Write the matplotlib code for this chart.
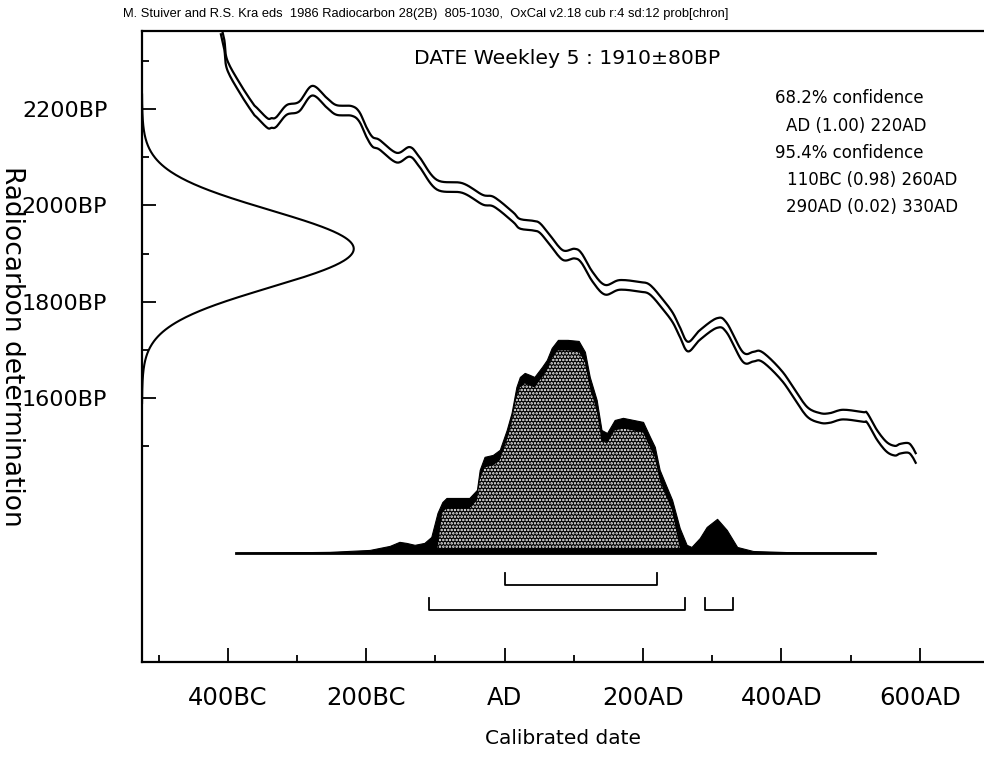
import numpy as np
import matplotlib
matplotlib.use("Agg")
import matplotlib.pyplot as plt
from matplotlib.ticker import FixedLocator

plt.rcParams['font.family'] = ['DejaVu Sans']
plt.rcParams['hatch.color'] = 'white'
plt.rcParams['hatch.linewidth'] = 1.2

# ---------------- data ----------------
header = ("M. Stuiver and R.S. Kra eds  1986 Radiocarbon 28(2B)  805-1030,  "
          "OxCal v2.18 cub r:4 sd:12 prob[chron]")
title = "DATE Weekley 5 : 1910\u00b180BP"
date_bp = 1910
date_err = 80

# calibration curve (mean) and its 1-sigma
cal_years = [-410, -405, -401, -383, -364, -359, -343, -337, -330, -315, -297, -278,
             -257, -243, -221, -210, -200, -191, -181, -156, -137, -123, -98, -61,
             -32, -15, 12, 22, 41, 51, 65, 84, 101, 111, 127, 145, 166, 195, 210,
             229, 243, 253, 265, 282, 307, 321, 344, 359, 369, 383, 402, 417, 437,
             456, 470, 489, 518, 524, 538, 552, 564, 571, 583, 589, 594]
cal_bp = [2365, 2333, 2292, 2244, 2202, 2194, 2171, 2171, 2173, 2198, 2205, 2238,
          2213, 2198, 2196, 2184, 2153, 2132, 2126, 2099, 2111, 2090, 2043, 2036,
          2012, 2007, 1976, 1962, 1958, 1953, 1929, 1897, 1900, 1891, 1852, 1825,
          1835, 1831, 1825, 1794, 1767, 1738, 1707, 1731, 1756, 1746, 1686, 1686,
          1688, 1673, 1644, 1613, 1572, 1559, 1559, 1566, 1561, 1559, 1524, 1499,
          1491, 1495, 1497, 1489, 1476]
cal_sigma = 10

# calibrated probability distribution (relative, peak = 1)
dist_years = [-388, -253, -195, -166, -152, -142, -130, -116, -106, -97, -90, -84,
              -51, -40, -36, -29, -17, -7, 3, 10, 17, 22, 29, 36, 43, 54, 61, 68,
              77, 91, 107, 116, 123, 133, 140, 148, 159, 171, 200, 210, 217, 224,
              233, 242, 253, 263, 270, 282, 292, 307, 321, 336, 359, 427, 535]
dist_prob = [0.0, 0.005, 0.014, 0.033, 0.052, 0.047, 0.038, 0.047, 0.075, 0.188,
             0.239, 0.258, 0.258, 0.296, 0.390, 0.451, 0.460, 0.484, 0.577, 0.657,
             0.779, 0.826, 0.845, 0.836, 0.826, 0.873, 0.906, 0.962, 1.0, 1.0,
             0.995, 0.944, 0.826, 0.718, 0.577, 0.563, 0.624, 0.634, 0.615, 0.545,
             0.498, 0.390, 0.319, 0.249, 0.117, 0.038, 0.028, 0.070, 0.122, 0.160,
             0.108, 0.028, 0.009, 0.002, 0.0]

range_68 = [(1, 220)]
range_95 = [(-110, 260), (290, 330)]
conf_text = ["68.2% confidence", "AD (1.00) 220AD", "95.4% confidence",
             "110BC (0.98) 260AD", "290AD (0.02) 330AD"]

xtick_major = [-400, -200, 0, 200, 400, 600]
xtick_labels = ["400BC", "200BC", "AD", "200AD", "400AD", "600AD"]
xtick_minor = [-500, -300, -100, 100, 300, 500]
ytick_major = [1600, 1800, 2000, 2200]
ytick_labels = ["1600BP", "1800BP", "2000BP", "2200BP"]
ytick_minor = [1500, 1700, 1900, 2100, 2300]


def catmull_rom(x, y, n=10):
    """Smooth drawing path through the given points (display only)."""
    x = np.asarray(x, float)
    y = np.asarray(y, float)
    px = np.concatenate([[2 * x[0] - x[1]], x, [2 * x[-1] - x[-2]]])
    py = np.concatenate([[2 * y[0] - y[1]], y, [2 * y[-1] - y[-2]]])
    t = np.linspace(0, 1, n, endpoint=False)[:, None]
    ox, oy = [], []
    for i in range(1, len(px) - 2):
        for arr, out in ((px, ox), (py, oy)):
            p0, p1, p2, p3 = arr[i - 1], arr[i], arr[i + 1], arr[i + 2]
            seg = 0.5 * ((2 * p1) + (-p0 + p2) * t + (2 * p0 - 5 * p1 + 4 * p2 - p3) * t ** 2
                         + (-p0 + 3 * p1 - 3 * p2 + p3) * t ** 3)
            out.append(seg.ravel())
    ox.append([x[-1]])
    oy.append([y[-1]])
    return np.concatenate(ox), np.concatenate(oy)


# ---------------- figure ----------------
W, H = 984, 758
fig = plt.figure(figsize=(W / 100, H / 100), dpi=100)
L, R, T, B = 142, 984, 31, 662
ax = fig.add_axes([L / W, (H - B) / H, (R - L) / W, (B - T) / H])
xmin, xmax = -524, 692.7
ymin, ymax = 1052.7, 2361.8
ax.set_xlim(xmin, xmax)
ax.set_ylim(ymin, ymax)

# radiocarbon date gaussian on the y axis
bp = np.linspace(date_bp - 4 * date_err, date_bp + 4 * date_err, 400)
g = np.exp(-0.5 * ((bp - date_bp) / date_err) ** 2)
ax.plot(xmin + 306 * g, bp, color='black', lw=1.5, clip_on=False)

# calibration curve band
sx, sy = catmull_rom(cal_years, cal_bp)
ax.plot(sx, sy + cal_sigma, color='black', lw=1.6)
ax.plot(sx, sy - cal_sigma, color='black', lw=1.6)

# calibrated distribution
base = 1279
height = 442
dy = np.array(dist_years, float)
dp = np.array(dist_prob, float)
top = base + dp * height
ax.fill_between(dy, base, top, facecolor='black', edgecolor='black', lw=0.8)
inner_top = top - 22
inner_bot = base + 10
mask = (dy >= -95) & (dy <= 250) & (inner_top > inner_bot)
ax.fill_between(dy, inner_bot, inner_top, where=mask, interpolate=True,
                facecolor='black', edgecolor='white', hatch='.....', lw=0)
ax.plot([dy[0], dy[-1]], [base, base], color='black', lw=2)


# range brackets
def bracket(ranges, level):
    for a, b in ranges:
        ax.plot([a, a, b, b], [level + 25, level, level, level + 25],
                color='black', lw=1.3)


bracket(range_68, 1212)
bracket(range_95, 1161)

# axes styling
for s in ['top', 'left', 'bottom']:
    ax.spines[s].set_linewidth(1.6)
ax.spines['right'].set_visible(False)

ax.xaxis.set_major_locator(FixedLocator(xtick_major))
ax.xaxis.set_minor_locator(FixedLocator(xtick_minor))
ax.set_xticklabels(xtick_labels)
ax.yaxis.set_major_locator(FixedLocator(ytick_major))
ax.yaxis.set_minor_locator(FixedLocator(ytick_minor))
ax.set_yticklabels(ytick_labels)
ax.tick_params(which='both', direction='in', top=False, right=False, width=1.3)
ax.tick_params(which='major', length=10)
ax.tick_params(which='minor', length=5)
ax.tick_params(axis='x', which='major', labelsize=17.5, pad=17)
ax.tick_params(axis='y', which='major', labelsize=16, pad=25)

ax.set_xlabel("Calibrated date", fontsize=14.5, va='center')
ax.xaxis.set_label_coords(0.5, (B - 738) / (B - T))
ax.set_ylabel("Radiocarbon determination", fontsize=19, rotation=-90, va='center')
ax.yaxis.set_label_coords((12 - L) / (R - L), 0.5)

# texts
ax.text((567 - L) / (R - L), (B - 59) / (B - T), title, transform=ax.transAxes,
        ha='center', va='center', fontsize=14.7)
conf_x = [775, 786, 775, 787, 786]
conf_y = [98, 126, 153, 180, 207]
for t, xx, yy in zip(conf_text, conf_x, conf_y):
    ax.text((xx - L) / (R - L), (B - yy) / (B - T), t, transform=ax.transAxes,
            ha='left', va='center', fontsize=12)

fig.text(123 / W, 1 - 14 / H, header, ha='left', va='center', fontsize=9.3,
         family='Liberation Sans')

fig.savefig("out.png", dpi=100)
